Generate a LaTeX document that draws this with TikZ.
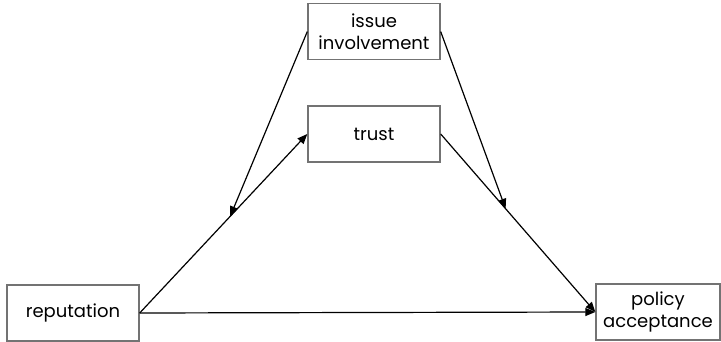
\documentclass[tikz,border=0pt]{standalone}
\usepackage{fontspec}
\setmainfont{Poppins}
\usetikzlibrary{arrows.meta,calc,positioning}

\begin{document}
\begin{tikzpicture}[x=1pt,y=-1pt,
     align=center,
     font=\fontsize{18}{22}\selectfont,
     every edge/.style={draw,line width=1.2pt,-{Triangle[length=10pt,width=8pt]}},
     var/.style={rectangle,draw=black!55,line width=1.4pt,minimum width=132pt,minimum height=56pt,inner sep=2pt}]

    \useasboundingbox (0,0) rectangle (721,342);

    \node[var] (trust) at (374,134) {trust};

    \node[var] (involvement) [above=45pt of trust] {issue\\involvement};

    \node[var] (reputation) at (73,313) {reputation};

    \node[var,minimum width=124pt] (acceptance) at (658,312) {policy\\acceptance};

    \path (reputation.east) edge (trust.west)
          (trust.east) edge (acceptance.west)
          (reputation.east) edge (acceptance.west);

    % moderation on the two paths
    \coordinate (midleft) at ($(reputation.east)!0.54!(trust.west)$);
    \coordinate (midright) at ($(trust.east)!0.42!(acceptance.west)$);

    \path (involvement.west) edge (midleft)
          (involvement.east) edge (midright);

  \end{tikzpicture}
\end{document}
